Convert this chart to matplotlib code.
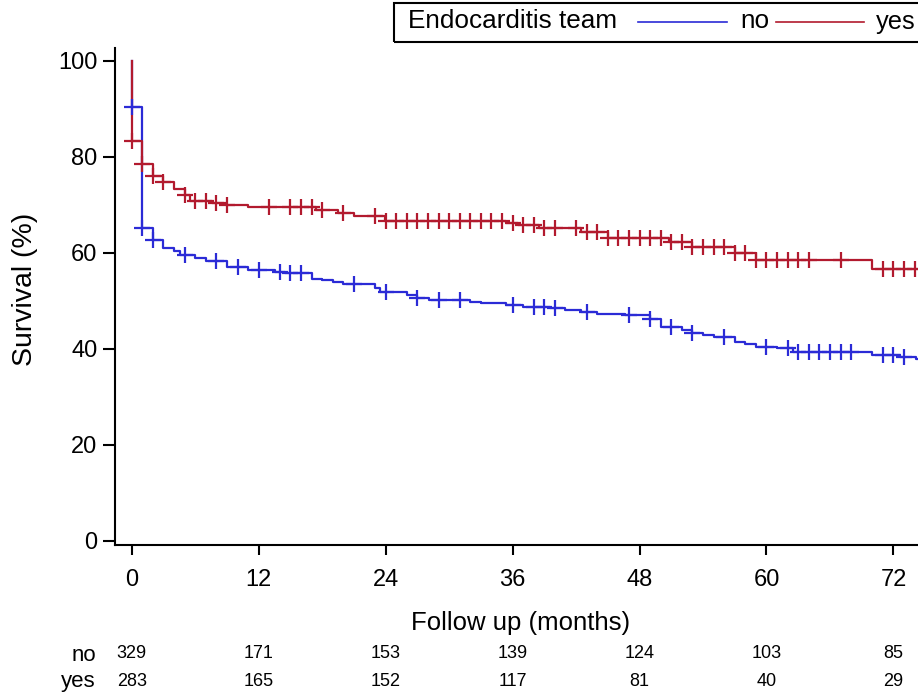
import matplotlib
matplotlib.use("Agg")
import matplotlib.pyplot as plt
import numpy as np
from matplotlib.lines import Line2D
from matplotlib.patches import Rectangle
from matplotlib.transforms import blended_transform_factory

plt.rcParams['font.family'] = ['Liberation Sans', 'DejaVu Sans']

# ---- data ----
no_times = [0, 0.94, 2.0, 3.0, 4.0, 4.6, 6.0, 7.0, 9.0, 11.0, 13.5, 14.5, 17.0, 18.0, 19.0, 20.0,
            23.0, 23.5, 26.0, 27.0, 28.1, 32.0, 33.0, 35.4, 37.0, 39.5, 41.0, 42.5, 44.0, 46.6,
            49.0, 50.0, 52.0, 53.0, 54.0, 55.0, 57.0, 58.0, 59.0, 61.0, 62.5, 70.0, 72.6, 74.1]
no_surv = [90.4, 65.1, 62.6, 60.9, 60.35, 59.5, 58.96, 58.3, 57.1, 56.4, 56.05, 55.7, 54.6, 54.3,
           53.96, 53.5, 52.7, 51.9, 51.2, 50.5, 50.1, 49.8, 49.45, 49.1, 48.75, 48.4, 48.1, 47.7,
           47.2, 46.95, 46.1, 44.6, 43.9, 43.2, 42.85, 42.4, 41.5, 41.0, 40.4, 40.1, 39.4, 38.7,
           38.2, 37.8]
no_censor = [0, 0.94, 2.0, 5.0, 8.0, 10.0, 12.0, 14.0, 15.0, 16.0, 21.0, 24.0, 27.0, 29.0, 31.0,
             36.0, 38.0, 39.0, 40.0, 43.0, 47.0, 49.0, 51.0, 53.0, 56.0, 60.0, 62.0, 63.0, 64.0,
             65.0, 66.0, 67.0, 68.0, 71.0, 72.0, 73.0]

yes_times = [0, 0.94, 2.0, 3.0, 4.0, 5.0, 5.5, 7.6, 8.9, 11.0, 17.4, 19.5, 21.0, 23.9, 35.4,
             36.5, 38.5, 42.5, 45.0, 50.8, 53.0, 57.0, 59.0, 70.0]
yes_surv = [83.3, 78.4, 76.0, 74.8, 73.2, 72.0, 70.8, 70.4, 70.0, 69.5, 69.0, 68.2, 67.7, 66.7,
            66.3, 65.8, 65.1, 64.4, 63.0, 62.2, 61.25, 60.0, 58.5, 56.6]
yes_censor = [0, 0.94, 2.0, 3.0, 5.0, 6.0, 7.0, 8.0, 9.0, 13.0, 15.0, 16.0, 17.0, 18.0, 20.0,
              23.0, 24.0, 25.0, 26.0, 27.0, 28.0, 29.0, 30.0, 31.0, 32.0, 33.0, 34.0, 35.0, 36.0,
              37.0, 38.0, 39.0, 40.0, 42.0, 43.0, 44.0, 45.0, 46.0, 47.0, 48.0, 49.0, 50.0, 51.0,
              52.0, 53.0, 54.0, 55.0, 56.0, 57.0, 58.0, 59.0, 60.0, 61.0, 62.0, 63.0, 64.0, 67.0,
              71.0, 72.0, 73.0, 74.0]

x_ticks = [0, 12, 24, 36, 48, 60, 72]
y_ticks = [0, 20, 40, 60, 80, 100]
risk_no = [329, 171, 153, 139, 124, 103, 85]
risk_yes = [283, 165, 152, 117, 81, 40, 29]

group_labels = ["no", "yes"]
legend_title = "Endocarditis team"

BLUE = '#2b2bd6'
RED = '#b21a2e'

W, H = 918, 693
fig = plt.figure(figsize=(W / 100, H / 100), dpi=100)
ax = fig.add_axes([115 / W, 1 - 545 / H, 1 - 115 / W, (545 - 48.3) / H])
ax.set_xlim(-1.58, 74.32)
ax.set_ylim(-0.9, 102.6)


def km_draw(times, surv, censor, color, end=76):
    t = np.array([0.0] + list(times) + [end])
    s = np.array([100.0] + list(surv) + [surv[-1]])
    ax.step(t, s, where='post', color=color, lw=1.6, zorder=3)
    tc = np.array(censor)
    idx = np.searchsorted(t, tc, side='right') - 1
    ax.plot(tc, s[idx], ls='none', marker='+', ms=12, mew=1.6, color=color, zorder=4)


km_draw(no_times, no_surv, no_censor, BLUE)
km_draw(yes_times, yes_surv, yes_censor, RED)

for side in ['top', 'right']:
    ax.spines[side].set_visible(False)
for side in ['left', 'bottom']:
    ax.spines[side].set_linewidth(1.5)

ax.set_xticks(x_ticks)
ax.set_yticks(y_ticks)
ax.tick_params(axis='x', direction='out', length=7.5, width=1.5, pad=10, labelsize=17)
ax.tick_params(axis='y', direction='out', length=8.6, width=1.5, pad=4, labelsize=17)

# axis titles
fig.text(521 / W, 1 - 623 / H, "Follow up (months)", ha='center', va='center', fontsize=18.5)
fig.text(25 / W, 1 - 289 / H, "Survival (%)", ha='center', va='center', rotation=90, fontsize=20.5)

# number at risk table
tr = blended_transform_factory(ax.transData, fig.transFigure)
for xv, n in zip(x_ticks, risk_no):
    ax.text(xv, 1 - 658.5 / H, str(n), transform=tr, ha='center', va='baseline', fontsize=13,
            clip_on=False)
for xv, n in zip(x_ticks, risk_yes):
    ax.text(xv, 1 - 686.5 / H, str(n), transform=tr, ha='center', va='baseline', fontsize=13,
            clip_on=False)
fig.text(96 / W, 1 - 661 / H, group_labels[0], ha='right', va='baseline', fontsize=16)
fig.text(96 / W, 1 - 687.5 / H, group_labels[1], ha='right', va='baseline', fontsize=16)

# legend box at top
ft = fig.transFigure
fig.add_artist(Rectangle((394 / W, 1 - 41.5 / H), 1.0, (41.5 - 2.7) / H, transform=ft,
                         fill=False, lw=1.5, edgecolor='black', clip_on=False))
fig.text(408 / W, 1 - 21.5 / H, legend_title, ha='left', va='center', fontsize=18.8)
fig.add_artist(Line2D([638 / W, 727 / W], [1 - 21.7 / H] * 2, transform=ft, color=BLUE, lw=1.2))
fig.text(740 / W, 1 - 21.5 / H, group_labels[0], ha='left', va='center', fontsize=18.8)
fig.add_artist(Line2D([776 / W, 864 / W], [1 - 21.7 / H] * 2, transform=ft, color=RED, lw=1.2))
fig.text(876 / W, 1 - 21.5 / H, group_labels[1], ha='left', va='center', fontsize=18.3)

fig.savefig("out.png", dpi=100, facecolor='white')
